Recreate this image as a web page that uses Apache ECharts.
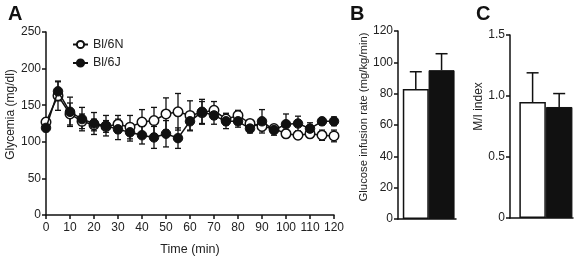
<!DOCTYPE html>
<html>
<head>
<meta charset="utf-8">
<script src="https://cdn.jsdelivr.net/npm/echarts@6/dist/echarts.min.js"></script>
<style>
  html, body { margin: 0; padding: 0; background: #fff; }
  #chart { width: 579px; height: 261px; }
</style>
</head>
<body>
<div id="chart"></div>
<script>
// panel A: glycemia over time
var times = [0, 5, 10, 15, 20, 25, 30, 35, 40, 45, 50, 55, 60, 65, 70, 75, 80, 85, 90, 95, 100, 105, 110, 115, 120];
var n6Mean = [127, 163, 138, 128, 123, 121, 124, 120, 127, 129, 138, 141, 136, 140, 143, 131, 136, 125, 121, 118, 111, 109, 111, 109, 108];
var n6Err = [5, 20, 15, 10, 8, 8, 12, 16, 17, 18, 22, 25, 20, 15, 12, 8, 7, 5, 6, 5, 5, 5, 5, 7, 8];
var j6Mean = [119, 169, 141, 131, 125, 122, 117, 113, 109, 106, 111, 105, 128, 141, 136, 128, 128, 118, 128, 116, 124, 125, 118, 128, 128];
var j6Err = [5, 13, 20, 16, 15, 14, 14, 12, 12, 15, 18, 14, 13, 17, 12, 10, 8, 6, 16, 7, 14, 10, 8, 5, 6];

// panels B and C
var groups = ['Bl/6N', 'Bl/6J'];
var girMean = [83, 95];
var girErr = [11, 10.5];
var miMean = [0.95, 0.91];
var miErr = [0.24, 0.11];

var font = 'Liberation Sans';
var ink = '#111';

function zip3(x, m, e) {
  return x.map(function (v, i) { return [v, m[i], e[i]]; });
}

// two-sided error bar with caps
function errBoth(params, api) {
  var x = api.value(0), m = api.value(1), e = api.value(2);
  var top = api.coord([x, m + e]);
  var bot = api.coord([x, m - e]);
  var w = 3;
  var st = { stroke: ink, lineWidth: 1.3 };
  return {
    type: 'group',
    children: [
      { type: 'line', shape: { x1: top[0], y1: top[1], x2: bot[0], y2: bot[1] }, style: st },
      { type: 'line', shape: { x1: top[0] - w, y1: top[1], x2: top[0] + w, y2: top[1] }, style: st },
      { type: 'line', shape: { x1: bot[0] - w, y1: bot[1], x2: bot[0] + w, y2: bot[1] }, style: st }
    ]
  };
}

// upward-only error bar for the bar panels
function errUp(params, api) {
  var x = api.value(0), m = api.value(1), e = api.value(2);
  var top = api.coord([x, m + e]);
  var base = api.coord([x, m]);
  var w = 6;
  var st = { stroke: ink, lineWidth: 1.5 };
  return {
    type: 'group',
    children: [
      { type: 'line', shape: { x1: top[0], y1: top[1], x2: base[0], y2: base[1] }, style: st },
      { type: 'line', shape: { x1: top[0] - w, y1: top[1], x2: top[0] + w, y2: top[1] }, style: st }
    ]
  };
}

var axisLine = { onZero: false, lineStyle: { color: ink, width: 1.5 } };
var axisTick = { length: 4, lineStyle: { color: ink, width: 1.5 } };
var labelStyle = { fontFamily: font, fontSize: 12, color: '#222' };
var nameStyle = { fontFamily: font, fontSize: 12, color: '#222' };

var chart = echarts.init(document.getElementById('chart'), null, { renderer: 'canvas' });

var option = {
  animation: false,
  backgroundColor: '#fff',
  title: [
    { text: 'A', left: 3, top: -1, textStyle: { fontFamily: font, fontSize: 20, fontWeight: 'bold', color: ink } },
    { text: 'B', left: 345, top: -1, textStyle: { fontFamily: font, fontSize: 20, fontWeight: 'bold', color: ink } },
    { text: 'C', left: 471, top: -1, textStyle: { fontFamily: font, fontSize: 20, fontWeight: 'bold', color: ink } }
  ],
  legend: {
    orient: 'vertical',
    left: 72,
    top: 38,
    padding: 0,
    itemWidth: 15,
    itemHeight: 9,
    itemGap: 5.5,
    textStyle: { fontFamily: font, fontSize: 12.5, color: '#222' },
    data: ['Bl/6N', 'Bl/6J']
  },
  grid: [
    { left: 46, top: 32, width: 288, height: 187 },
    { left: 398, top: 31, width: 58, height: 188 },
    { left: 510, top: 35, width: 63, height: 183 }
  ],
  xAxis: [
    {
      gridIndex: 0, type: 'value', min: 0, max: 120, interval: 10,
      name: 'Time (min)', nameLocation: 'middle', nameGap: 28,
      nameTextStyle: Object.assign({}, nameStyle, { fontSize: 12.5 }),
      axisLine: axisLine, axisTick: axisTick, splitLine: { show: false },
      axisLabel: Object.assign({ margin: 7 }, labelStyle)
    },
    {
      gridIndex: 1, type: 'value', min: -0.69, max: 1.56,
      axisLine: axisLine, axisTick: { show: false }, splitLine: { show: false },
      axisLabel: Object.assign({
        margin: 9, showMinLabel: false, showMaxLabel: false,
        customValues: [0, 1],
        formatter: function (v) { return groups[Math.round(v)]; }
      }, labelStyle)
    },
    {
      gridIndex: 2, type: 'value', min: -0.85, max: 1.52,
      axisLine: axisLine, axisTick: { show: false }, splitLine: { show: false },
      axisLabel: Object.assign({
        margin: 9, showMinLabel: false, showMaxLabel: false,
        customValues: [0, 1],
        formatter: function (v) { return groups[Math.round(v)]; }
      }, labelStyle)
    }
  ],
  yAxis: [
    {
      gridIndex: 0, type: 'value', min: 0, max: 250, interval: 50,
      name: 'Glycemia (mg/dl)', nameLocation: 'middle', nameGap: 27,
      nameTextStyle: Object.assign({ padding: [0, 0, 0, 18] }, nameStyle),
      axisLine: axisLine, axisTick: axisTick, splitLine: { show: false },
      axisLabel: Object.assign({ margin: 5 }, labelStyle)
    },
    {
      gridIndex: 1, type: 'value', min: 0, max: 120, interval: 20,
      name: 'Glucose infusion rate (mg/kg/min)', nameLocation: 'middle', nameGap: 29,
      nameTextStyle: Object.assign({ padding: [0, 0, 0, 16] }, nameStyle, { fontSize: 11.3 }),
      axisLine: axisLine, axisTick: axisTick, splitLine: { show: false },
      axisLabel: Object.assign({ margin: 5 }, labelStyle)
    },
    {
      gridIndex: 2, type: 'value', min: 0, max: 1.5, interval: 0.5,
      name: 'M/I index', nameLocation: 'middle', nameGap: 16,
      nameTextStyle: Object.assign({ padding: [0, 0, 0, 40] }, nameStyle),
      axisLine: axisLine, axisTick: axisTick, splitLine: { show: false },
      axisLabel: Object.assign({
        margin: 5,
        formatter: function (v) { return v === 0 ? '0' : v.toFixed(1); }
      }, labelStyle)
    }
  ],
  series: [
    {
      type: 'custom', xAxisIndex: 0, yAxisIndex: 0, z: 2,
      renderItem: errBoth, data: zip3(times, n6Mean, n6Err)
    },
    {
      type: 'custom', xAxisIndex: 0, yAxisIndex: 0, z: 2,
      renderItem: errBoth, data: zip3(times, j6Mean, j6Err)
    },
    {
      name: 'Bl/6N', type: 'line', xAxisIndex: 0, yAxisIndex: 0, z: 3,
      symbol: 'circle', symbolSize: 9.5,
      lineStyle: { color: ink, width: 1.5 },
      itemStyle: { color: '#fff', borderColor: ink, borderWidth: 1.5 },
      data: times.map(function (t, i) { return [t, n6Mean[i]]; })
    },
    {
      name: 'Bl/6J', type: 'line', xAxisIndex: 0, yAxisIndex: 0, z: 4,
      symbol: 'circle', symbolSize: 9.5,
      lineStyle: { color: ink, width: 1.5 },
      itemStyle: { color: ink, borderColor: ink, borderWidth: 1 },
      data: times.map(function (t, i) { return [t, j6Mean[i]]; })
    },
    {
      type: 'bar', xAxisIndex: 1, yAxisIndex: 1, barWidth: 26, z: 3,
      data: girMean.map(function (v, i) {
        return {
          value: [i, v],
          itemStyle: i === 0
            ? { color: '#fff', borderColor: ink, borderWidth: 1.5 }
            : { color: ink, borderColor: ink, borderWidth: 1 }
        };
      })
    },
    {
      type: 'custom', xAxisIndex: 1, yAxisIndex: 1, z: 2,
      renderItem: errUp, data: zip3([0, 1], girMean, girErr)
    },
    {
      type: 'bar', xAxisIndex: 2, yAxisIndex: 2, barWidth: 26.5, z: 3,
      data: miMean.map(function (v, i) {
        return {
          value: [i, v],
          itemStyle: i === 0
            ? { color: '#fff', borderColor: ink, borderWidth: 1.5 }
            : { color: ink, borderColor: ink, borderWidth: 1 }
        };
      })
    },
    {
      type: 'custom', xAxisIndex: 2, yAxisIndex: 2, z: 2,
      renderItem: errUp, data: zip3([0, 1], miMean, miErr)
    }
  ]
};

chart.setOption(option);
</script>
</body>
</html>
